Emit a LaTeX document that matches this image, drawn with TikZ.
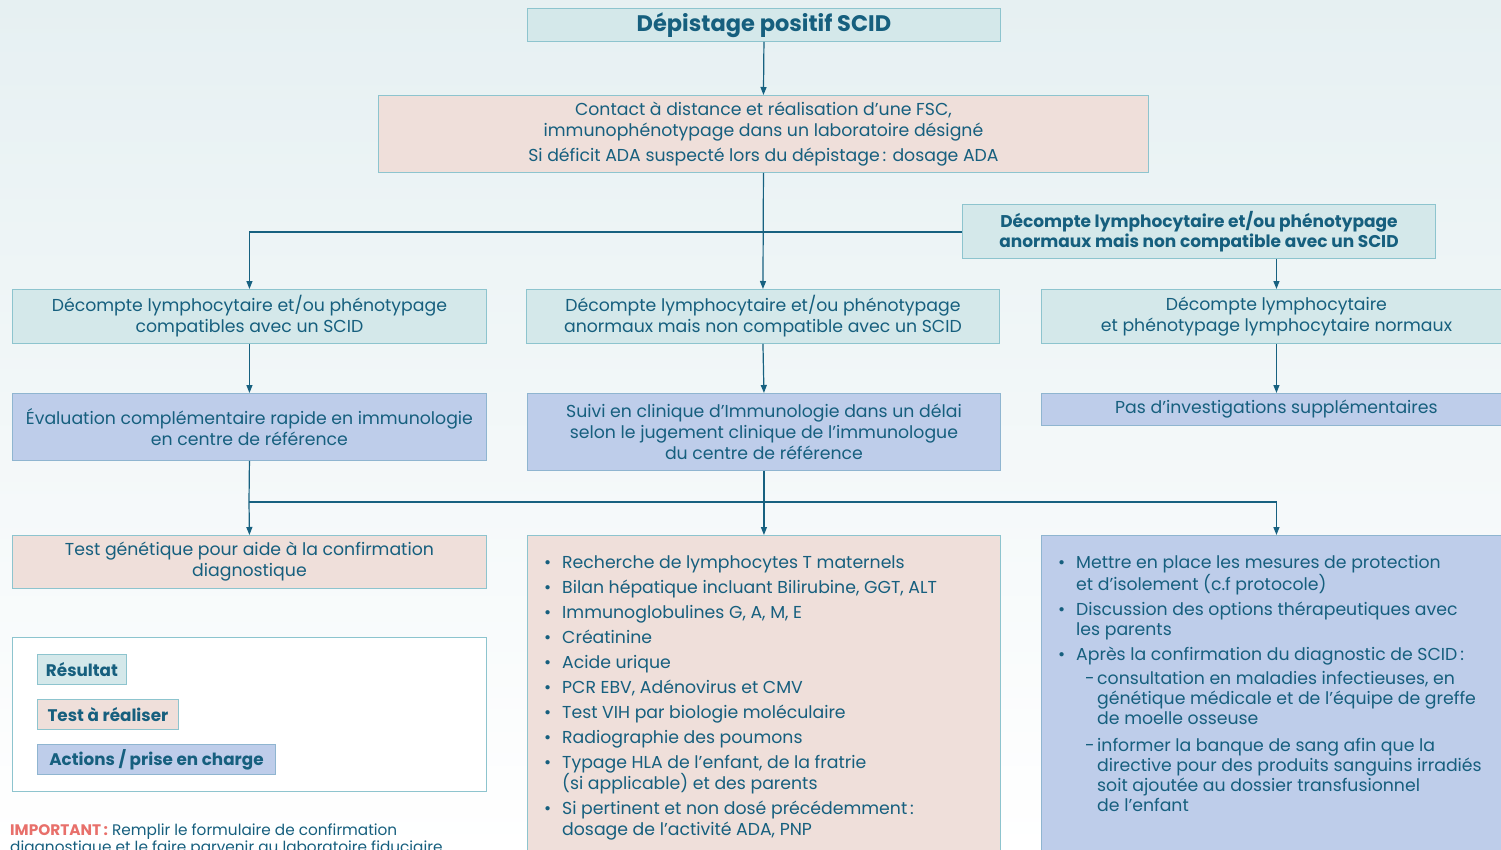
\documentclass[tikz,border=0pt]{standalone}
\usepackage{fontspec}
\setmainfont{Poppins}
\usetikzlibrary{arrows.meta}
\definecolor{txt}{HTML}{165F7E}
\definecolor{arr}{HTML}{176180}
\definecolor{resfill}{HTML}{D4E8EA}
\definecolor{resdraw}{HTML}{8DC4CE}
\definecolor{testfill}{HTML}{EFDFDA}
\definecolor{actfill}{HTML}{BECDEA}
\definecolor{actdraw}{HTML}{8FB5D0}
\definecolor{imp}{HTML}{E8706B}
\definecolor{bgtop}{HTML}{E6F0F2}
\begin{document}
\begin{tikzpicture}[x=1pt,y=-1pt,
 base/.style={draw, line width=0.9pt, anchor=north west, inner sep=0pt, align=center, text=txt, font=\fontsize{17.3}{20.8}\selectfont},
 res/.style={base, fill=resfill, draw=resdraw},
 tst/.style={base, fill=testfill, draw=resdraw},
 act/.style={base, fill=actfill, draw=actdraw},
 conn/.style={draw=arr, line width=1.2pt},
 arw/.style={conn, -{Triangle[length=8pt,width=6pt]}},
 lst/.style={anchor=north west, inner sep=0pt, align=left, text=txt, font=\fontsize{17.3}{20.2}\selectfont},
 leg/.style={base, font=\bfseries\fontsize{16.8}{20}\selectfont, minimum height=30pt}]
\useasboundingbox (0,0) rectangle (1501,850);
\shade[top color=bgtop, bottom color=white] (0,0) rectangle (1501,850);

\node[res, minimum width=473pt, minimum height=33pt, font=\bfseries\fontsize{22.5}{25}\selectfont] (dep) at (527,8) {Dépistage positif SCID};
\node[tst, minimum width=770pt, minimum height=77pt] (fsc) at (378,95) {Contact à distance et réalisation d’une FSC,\\ immunophénotypage dans un laboratoire désigné\\[4pt] Si déficit ADA suspecté lors du dépistage\,: dosage ADA};
\node[res, minimum width=473pt, minimum height=54pt, font=\bfseries\fontsize{17}{20.5}\selectfont] (flt) at (962,204) {Décompte lymphocytaire et/ou phénotypage\\ anormaux mais non compatible avec un SCID};

\node[res, minimum width=474pt, minimum height=54pt] (l2) at (12,289) {Décompte lymphocytaire et/ou phénotypage\\ compatibles avec un SCID};
\node[res, minimum width=473pt, minimum height=54pt] (m2) at (526,289) {Décompte lymphocytaire et/ou phénotypage\\ anormaux mais non compatible avec un SCID};
\node[res, minimum width=470pt, minimum height=54pt] (r2) at (1041,289) {Décompte lymphocytaire\\ et phénotypage lymphocytaire normaux};

\node[act, minimum width=474pt, minimum height=67pt] (l3) at (12,393) {Évaluation complémentaire rapide en immunologie\\ en centre de référence};
\node[act, minimum width=473pt, minimum height=77pt] (m3) at (527,393) {Suivi en clinique d’Immunologie dans un délai\\ selon le jugement clinique de l’immunologue\\ du centre de référence};
\node[act, minimum width=470pt, minimum height=32pt] (r3) at (1041,393) {Pas d’investigations supplémentaires};

\node[tst, minimum width=474pt, minimum height=53pt] (l4) at (12,535) {Test génétique pour aide à la confirmation\\ diagnostique};
\node[tst, minimum width=473pt, minimum height=330pt] (m4) at (527,535) {};
\node[act, minimum width=470pt, minimum height=330pt] (r4) at (1041,535) {};

\node[lst] (m4t) at (544,555) {\makebox[18pt][l]{\textbullet}Recherche de lymphocytes T maternels\\[4.8pt]
\makebox[18pt][l]{\textbullet}Bilan hépatique incluant Bilirubine, GGT, ALT\\[4.8pt]
\makebox[18pt][l]{\textbullet}Immunoglobulines G, A, M, E\\[4.8pt]
\makebox[18pt][l]{\textbullet}Créatinine\\[4.8pt]
\makebox[18pt][l]{\textbullet}Acide urique\\[4.8pt]
\makebox[18pt][l]{\textbullet}PCR EBV, Adénovirus et CMV\\[4.8pt]
\makebox[18pt][l]{\textbullet}Test VIH par biologie moléculaire\\[4.8pt]
\makebox[18pt][l]{\textbullet}Radiographie des poumons\\[4.8pt]
\makebox[18pt][l]{\textbullet}Typage HLA de l’enfant, de la fratrie\\
\hspace*{18pt}(si applicable) et des parents\\[4.8pt]
\makebox[18pt][l]{\textbullet}Si pertinent et non dosé précédemment\,:\\
\hspace*{18pt}dosage de l’activité ADA, PNP};

\node[lst] (r4t) at (1058,555) {\makebox[18pt][l]{\textbullet}Mettre en place les mesures de protection\\
\hspace*{18pt}et d’isolement (c.f protocole)\\[4.8pt]
\makebox[18pt][l]{\textbullet}Discussion des options thérapeutiques avec\\
\hspace*{18pt}les parents\\[4.8pt]
\makebox[18pt][l]{\textbullet}Après la confirmation du diagnostic de SCID\,:\\[4pt]
\hspace*{27pt}\makebox[12pt][l]{-}consultation en maladies infectieuses, en\\
\hspace*{39pt}génétique médicale et de l’équipe de greffe\\
\hspace*{39pt}de moelle osseuse\\[6pt]
\hspace*{27pt}\makebox[12pt][l]{-}informer la banque de sang afin que la\\
\hspace*{39pt}directive pour des produits sanguins irradiés\\
\hspace*{39pt}soit ajoutée au dossier transfusionnel\\
\hspace*{39pt}de l’enfant};

\node[base, fill=white, draw=resdraw, minimum width=474pt, minimum height=154pt] (legbox) at (12,637) {};
\node[leg, fill=resfill, draw=resdraw, minimum width=89pt] (lg1) at (37,654) {Résultat};
\node[leg, fill=testfill, draw=resdraw, minimum width=141pt] (lg2) at (37,699) {Test à réaliser};
\node[leg, fill=actfill, draw=actdraw, minimum width=238pt] (lg3) at (37,744) {Actions / prise en charge};

\node[lst, font=\fontsize{15.3}{15.5}\selectfont] (imp) at (10,824) {{\color{imp}\bfseries IMPORTANT\,:} Remplir le formulaire de confirmation\\ diagnostique et le faire parvenir au laboratoire fiduciaire};

\coordinate (j1) at (763,232);
\coordinate (j2) at (249,502);
\draw[arw] (dep.south) -- (fsc.north);
\draw[arw] (fsc.south) -- (m2.north);
\draw[arw] (j1) -| (l2.north);
\draw[conn] (j1) -- (flt.west |- j1);
\draw[arw] (flt.south -| r2.north) -- (r2.north);
\draw[arw] (l2.south) -- (l3.north);
\draw[arw] (m2.south) -- (m3.north);
\draw[arw] (r2.south) -- (r3.north);
\draw[conn] (l3.south) -- (j2);
\draw[arw] (j2) -- (l4.north);
\draw[arw] (j2) -| (r4.north);
\draw[arw] (m3.south) -- (m4.north);
\end{tikzpicture}
\end{document}
